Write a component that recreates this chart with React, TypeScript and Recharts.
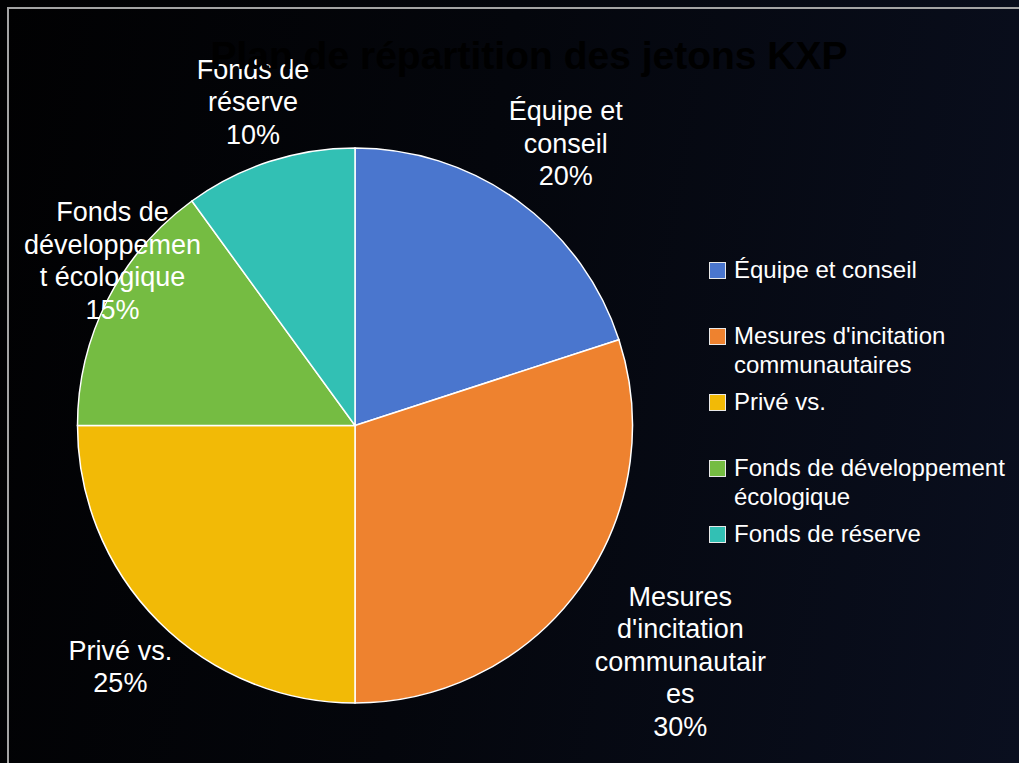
import React from "react";
import { PieChart, Pie, Cell, Legend } from "recharts";

const categories = [
  "Équipe et conseil",
  "Mesures d'incitation communautaires",
  "Privé vs.",
  "Fonds de développement écologique",
  "Fonds de réserve",
];
const shares = [20, 30, 25, 15, 10];
const colors = ["#4A76CE", "#EE822F", "#F2BA06", "#75BC42", "#32C0B4"];
// how the data labels are broken into lines in the original
const labelLines = [
  ["Équipe et", "conseil"],
  ["Mesures", "d'incitation", "communautair", "es"],
  ["Privé vs."],
  ["Fonds de", "développemen", "t écologique"],
  ["Fonds de", "réserve"],
];
const title = "Plan de répartition des jetons KXP";

const data = categories.map((name, i) => ({ name, value: shares[i] }));

const RADIAN = Math.PI / 180;
const FONT = "'Liberation Sans', Arial, Helvetica, sans-serif";
const LABEL_SIZE = 27;
const LINE_H = 32.5;

let ctx: CanvasRenderingContext2D | null = null;
function textWidth(s: string) {
  if (!ctx) ctx = document.createElement("canvas").getContext("2d");
  if (!ctx) return s.length * LABEL_SIZE * 0.55;
  ctx.font = `${LABEL_SIZE}px 'Liberation Sans'`;
  return ctx.measureText(s).width;
}

function renderLabel(props: any) {
  const { cx, cy, midAngle, outerRadius, index, percent } = props;
  const lines = [...labelLines[index], `${Math.round(percent * 100)}%`];
  const w = Math.max(...lines.map(textWidth));
  const h = lines.length * LINE_H;
  const cos = Math.cos(-midAngle * RADIAN);
  const sin = Math.sin(-midAngle * RADIAN);
  const ex = Math.abs(cos) > 1e-6 ? w / 2 / Math.abs(cos) : Infinity;
  const ey = Math.abs(sin) > 1e-6 ? h / 2 / Math.abs(sin) : Infinity;
  const dist = outerRadius + 14 + Math.min(ex, ey);
  let x = cx + dist * cos + 4;
  let y = cy + dist * sin + 2;
  if (x - w / 2 < 24) {
    x = 24 + w / 2;
    y += 10;
  }
  const top = y - h / 2;
  return (
    <text
      key={`lbl-${index}`}
      x={x}
      y={top}
      fill="#ffffff"
      textAnchor="middle"
      fontFamily={FONT}
      fontSize={LABEL_SIZE}
    >
      {lines.map((l, i) => (
        <tspan key={i} x={x} y={top + LINE_H * i + LINE_H / 2 + LABEL_SIZE * 0.36}>
          {l}
        </tspan>
      ))}
    </text>
  );
}

function LegendBox() {
  return (
    <div style={{ fontFamily: FONT, fontSize: 24, color: "#fff", lineHeight: "29px" }}>
      {categories.map((c, i) => (
        <div key={c} style={{ display: "flex", height: 66, alignItems: "flex-start" }}>
          <div
            style={{
              width: 15,
              height: 15,
              marginTop: 7,
              marginRight: 8,
              background: colors[i],
              border: "1px solid #e8e8e8",
              flexShrink: 0,
            }}
          />
          <div style={{ width: 285 }}>{c}</div>
        </div>
      ))}
    </div>
  );
}

export default function App() {
  return (
    <div
      style={{
        position: "relative",
        width: 1019,
        height: 763,
        overflow: "hidden",
        background: "linear-gradient(100deg, #010102 0%, #04060c 45%, #0a0f1f 100%)",
      }}
    >
      <style>{`body{margin:0;background:#000}`}</style>
      <div
        style={{
          position: "absolute",
          left: 7,
          top: 7,
          width: 1100,
          height: 900,
          border: "2px solid #a4a4a4",
        }}
      />
      <div style={{ position: "absolute", left: 0, top: 0 }}>
        <PieChart width={1019} height={763}>
          <Pie
            data={data}
            dataKey="value"
            nameKey="name"
            cx={350}
            cy={420.5}
            outerRadius={277.5}
            startAngle={90}
            endAngle={-270}
            stroke="#ffffff"
            strokeWidth={1.5}
            label={renderLabel}
            labelLine={false}
            isAnimationActive={false}
          >
            {data.map((d, i) => (
              <Cell key={d.name} fill={colors[i]} />
            ))}
          </Pie>
          <Legend
            content={() => <LegendBox />}
            wrapperStyle={{ left: 709, top: 255, width: 310 }}
          />
        </PieChart>
      </div>
      <div
        style={{
          position: "absolute",
          top: 34,
          left: 0,
          width: 1058,
          textAlign: "center",
          fontFamily: FONT,
          fontWeight: "bold",
          fontSize: 39,
          color: "#000",
          pointerEvents: "none",
        }}
      >
        {title}
      </div>
    </div>
  );
}
